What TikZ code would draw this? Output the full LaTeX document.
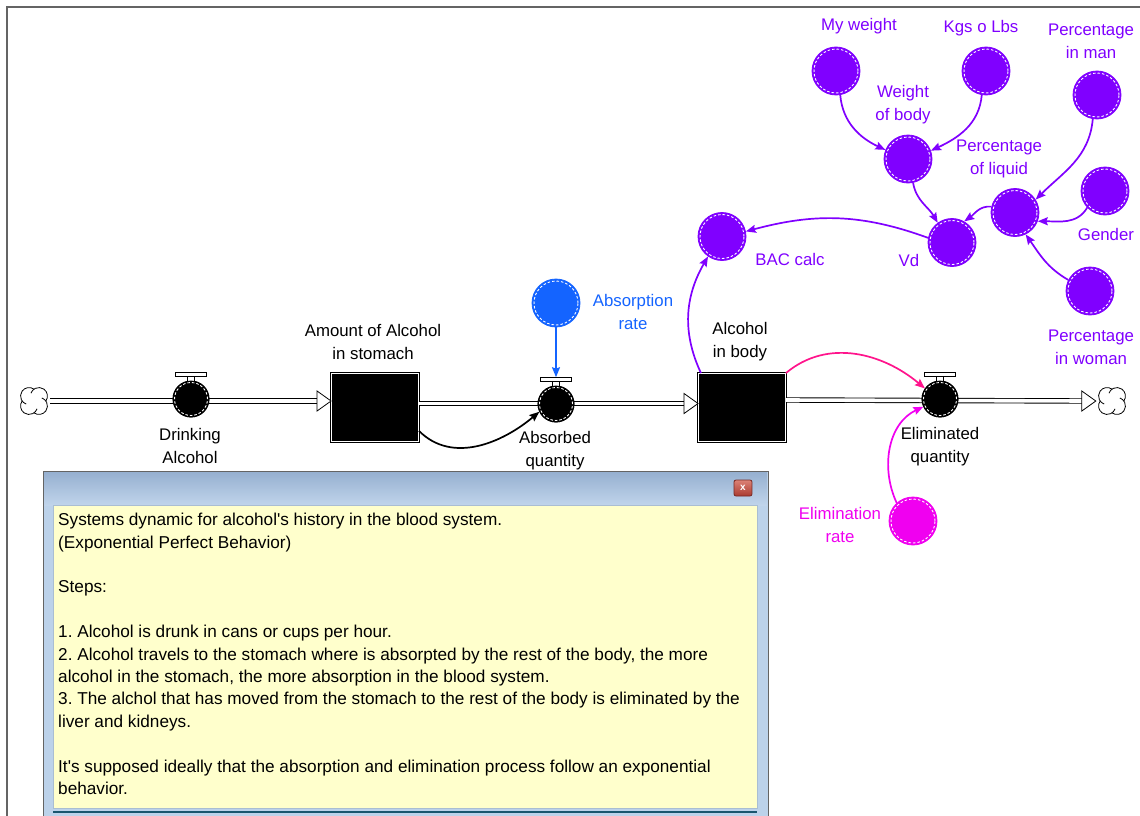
\documentclass[tikz,border=0pt]{standalone}
\usepackage{fontspec}
\setmainfont{Liberation Sans}
\usetikzlibrary{arrows.meta}

\definecolor{violetaux}{RGB}{128,0,255}
\definecolor{blueaux}{RGB}{20,100,255}
\definecolor{pinklink}{RGB}{255,20,140}
\definecolor{magentaaux}{RGB}{240,0,240}
\definecolor{noteyellow}{RGB}{255,255,204}
\definecolor{panelblue}{RGB}{188,210,234}
\definecolor{headtop}{RGB}{150,176,208}
\definecolor{headbot}{RGB}{192,212,235}
\definecolor{framegray}{RGB}{100,100,100}
\definecolor{closetop}{RGB}{220,130,118}
\definecolor{closebot}{RGB}{170,58,48}
\definecolor{tealline}{RGB}{25,85,110}

\tikzset{
  lbl/.style={font=\fontsize{16.8}{23}\selectfont, align=center, inner sep=0pt},
  aux/.style={circle, fill=#1, draw=#1, line width=0.8pt, minimum size=48pt, inner sep=0pt,
    path picture={\draw[white, line width=0.9pt, dash pattern=on 2.5pt off 2pt]
      (path picture bounding box.center) circle (22pt);}},
  valve/.style={circle, fill=black, draw=black, line width=0.8pt, minimum size=36pt, inner sep=0pt,
    path picture={\draw[white, line width=0.9pt, dash pattern=on 2.5pt off 2pt]
      (path picture bounding box.center) circle (16.5pt);}},
  stock/.style={rectangle, fill=black, draw=black, double=white, double distance=1.3pt,
    line width=0.9pt, minimum width=87pt, minimum height=68pt, inner sep=0pt},
  pipe/.style={draw=black, double=white, double distance=3.6pt, line width=0.9pt},
  valvebar/.style={rectangle, draw=black, fill=white, line width=0.8pt,
    minimum width=31pt, minimum height=4pt, inner sep=0pt},
  valvestem/.style={rectangle, draw=black, fill=white, line width=0.8pt,
    minimum width=7pt, minimum height=6pt, inner sep=0pt},
  cloudnode/.style={circle, minimum size=32pt, inner sep=0pt},
  flowhead/.style={draw=black, fill=white, line width=0.8pt},
  link/.style={line width=1.7pt, -{Stealth[length=10pt,width=8pt,inset=1.5pt]}},
}

\begin{document}
\frenchspacing
\begin{tikzpicture}[x=1pt,y=1pt]
\useasboundingbox (0,0) rectangle (1140,-816);
\fill[white] (0,0) rectangle (1140,-816);

% window frame
\draw[framegray, line width=1.5pt] (7,-816) -- (7,-7) -- (1140,-7);

% ---------- stocks, valves and clouds ----------
\node[cloudnode] (c1) at (34,-401) {};
\node[cloudnode] (c2) at (1112,-401) {};
\node[stock] (s1) at (375,-407.5) {};
\node[stock] (s2) at (742,-407.5) {};

% sources and sinks: four curled lobes
\foreach \c in {c1,c2}{
  \begin{scope}[shift={(\c.center)}]
    \fill[white] (45:7) circle (8.5) (135:7) circle (8.5) (225:7) circle (8.5) (315:7) circle (8.5);
    \foreach \a in {45,135,225,315}
      \draw[line width=0.8pt] (\a:7) ++(\a-80:8.5) arc[start angle=\a-80, delta angle=195, radius=8.5];
  \end{scope}
}

% pipes
\draw[pipe] (c1.east) -- ([xshift=-10pt]s1.west |- c1.east);
\draw[pipe] (s1.east |- 0,-403.5) -- ([xshift=-10pt]s2.west |- 0,-403.5);
\draw[pipe] (s2.east |- 0,-400) -- ([xshift=-10pt]c2.west);

% hollow flow heads
\draw[flowhead] (s1.west |- c1.east) -- ++(-14,10) -- ++(0,-20) -- cycle;
\draw[flowhead] (s2.west |- 0,-403.5) -- ++(-14,10) -- ++(0,-20) -- cycle;
\draw[flowhead] (c2.west) -- ++(-14,10) -- ++(0,-20) -- cycle;

% valves
\node[valve] (v1) at (191,-399) {};
\node[valve] (v2) at (556,-404) {};
\node[valve] (v3) at (940,-399) {};
\foreach \v in {v1,v2,v3}{
  \node[valvestem] (\v s) at ([yshift=2pt]\v.north) {};
  \node[valvebar] (\v b) at ([yshift=6pt]\v.north) {};
}
\node[valve] at (v1) {};
\node[valve] at (v2) {};
\node[valve] at (v3) {};

% ---------- auxiliaries ----------
\node[aux=blueaux] (ar) at (556,-303) {};
\node[aux=magentaaux] (er) at (913,-521) {};
\node[aux=violetaux] (bac) at (722,-236.5) {};
\node[aux=violetaux] (vd) at (952,-242.5) {};
\node[aux=violetaux] (mw) at (836,-71) {};
\node[aux=violetaux] (kg) at (986,-71) {};
\node[aux=violetaux] (pm) at (1097,-95) {};
\node[aux=violetaux] (wb) at (908,-159) {};
\node[aux=violetaux] (pl) at (1015,-212.5) {};
\node[aux=violetaux] (gd) at (1105,-191) {};
\node[aux=violetaux] (pw) at (1090,-291) {};

% ---------- connectors ----------
\draw[link] (s1.-28) to[out=-45,in=-140] (v2.-155);
\draw[link, blueaux] (ar.south) -- (v2b.north);
\draw[link, violetaux] (s2.140) to[out=115,in=-120] (bac.-125);
\draw[link, violetaux] (vd.169) to[out=160,in=15] (bac.12);
\draw[link, pinklink] (s2.north east) to[out=40,in=140] (v3.145);
\draw[link, magentaaux] (er.132) to[out=115,in=-155] (v3.-155);
\draw[link, violetaux] (mw.-80) to[out=-85,in=155] (wb.158);
\draw[link, violetaux] (kg.-100) to[out=-95,in=25] (wb.20);
\draw[link, violetaux] (wb.-78) to[out=-80,in=120] (vd.126);
\draw[link, violetaux] (pl.166) to[out=175,in=35] (vd.60);
\draw[link, violetaux] (pm.-100) to[out=-95,in=45] (pl.32);
\draw[link, violetaux] (gd.-137) to[out=-120,in=0] (pl.-21);
\draw[link, violetaux] (pw.153) to[out=150,in=-55] (pl.-64);

% ---------- labels ----------
\node[lbl] (ldrink) at (190,-445.5) {Drinking\\Alcohol};
\node[lbl] (lamount) at (373,-342) {Amount of Alcohol\\in stomach};
\node[lbl] (labsq) at (555,-451) {Absorbed\\quantity};
\node[lbl, text=blueaux] (labsr) at (633,-311.5) {Absorption\\rate};
\node[lbl] (lbody) at (740,-342) {Alcohol\\in body};
\node[lbl] (lelimq) at (940,-447) {Eliminated\\quantity};
\node[lbl, text=magentaaux] (lelimr) at (840,-524.5) {Elimination\\rate};
\node[lbl, text=violetaux] (lbac) at (790,-259) {BAC calc};
\node[lbl, text=violetaux] (lvd) at (909,-260) {Vd};
\node[lbl, text=violetaux] (lmw) at (859,-26.5) {My weight};
\node[lbl, text=violetaux] (lkg) at (981,-28.5) {Kgs o Lbs};
\node[lbl, text=violetaux] (lpm) at (1091,-41) {Percentage\\in man};
\node[lbl, text=violetaux] (lwb) at (903,-104.5) {Weight\\of body};
\node[lbl, text=violetaux] (lpl) at (999,-158.5) {Percentage\\of liquid};
\node[lbl, text=violetaux] (lgd) at (1106,-234.5) {Gender};
\node[lbl, text=violetaux] (lpw) at (1091,-347.5) {Percentage\\in woman};

% ---------- comment window ----------
\draw[framegray, line width=1pt, fill=panelblue] (43,-471) rectangle (768,-830);
\shade[top color=headtop, bottom color=headbot] (44,-472) rectangle (767,-505);
\node[draw={rgb,255:red,120;green,40;blue,35}, line width=0.8pt, rounded corners=2pt,
      top color=closetop, bottom color=closebot, minimum width=18pt, minimum height=16pt,
      inner sep=0pt, text=white, font=\bfseries\fontsize{10}{10}\selectfont] (close) at (743,-488) {x};
\draw[fill=noteyellow, draw={rgb,255:red,170;green,190;blue,210}, line width=0.6pt]
  (53,-505) rectangle (757,-808);
\draw[tealline, line width=1.5pt] (53,-812) -- (757,-812);
\node[anchor=north west, align=left, inner sep=0pt, font=\fontsize{17.2}{22.4}\selectfont]
  (note) at (58,-513) {%
Systems dynamic for alcohol\textquotesingle s history in the blood system.\\
(Exponential Perfect Behavior)\\[22.4pt]
Steps:\\[22.4pt]
1. Alcohol is drunk in cans or cups per hour.\\
2. Alcohol travels to the stomach where is absorpted by the rest of the body, the more\\
alcohol in the stomach, the more absorption in the blood system.\\
3. The alchol that has moved from the stomach to the rest of the body is eliminated by the\\
liver and kidneys.\\[22.4pt]
It\textquotesingle s supposed ideally that the absorption and elimination process follow an exponential\\
behavior.};
\end{tikzpicture}
\end{document}
